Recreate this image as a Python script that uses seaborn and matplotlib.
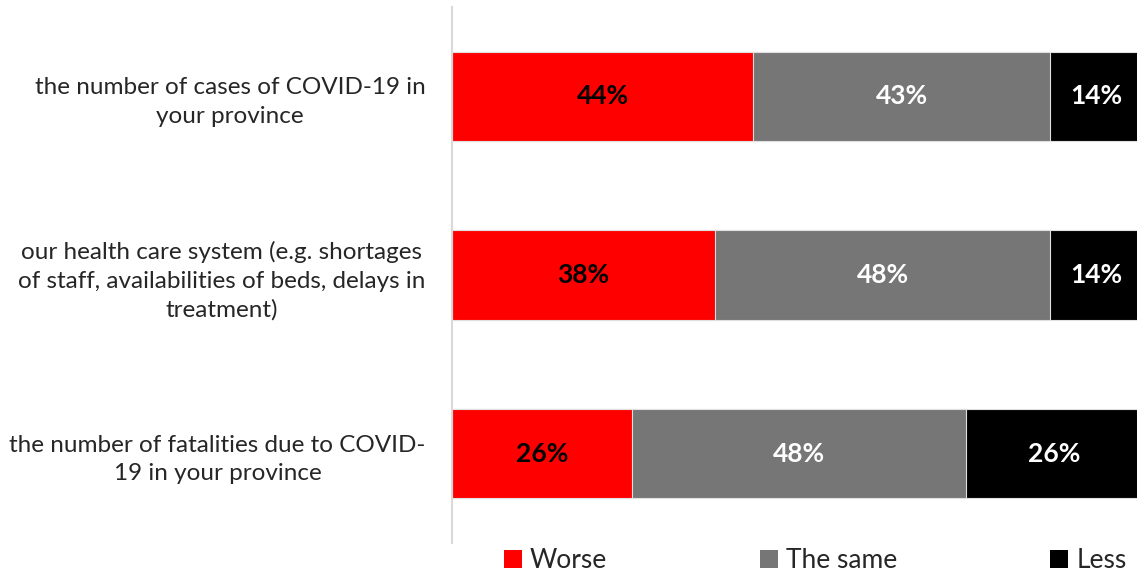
import numpy as np
import pandas as pd
import seaborn as sns
import matplotlib.pyplot as plt
from matplotlib.patches import Patch

# Survey answers (percent of respondents)
questions = [
    "the number of cases of COVID-19 in\nyour province",
    "our health care system (e.g. shortages\nof staff, availabilities of beds, delays in\ntreatment)",
    "the number of fatalities due to COVID-\n19 in your province",
]
worse = [43.6, 38.1, 26.0]
same = [42.9, 48.4, 48.4]
less = [13.6, 13.6, 25.6]

series_names = ["Worse", "The same", "Less"]
colors = ["#FF0000", "#767676", "#000000"]
text_colors = ["black", "white", "white"]

df = pd.DataFrame({"question": questions, "Worse": worse, "The same": same, "Less": less})
df["c1"] = df["Worse"]
df["c2"] = df["Worse"] + df["The same"]
df["c3"] = df["c2"] + df["Less"]

sns.set_style("white")
plt.rcParams["font.family"] = ["Lato", "DejaVu Sans"]

fig = plt.figure(figsize=(11.37, 5.71), dpi=100)
ax = fig.add_axes([452 / 1137, 28 / 571, 685 / 1137, 536 / 571])

# stacked bars: draw cumulative totals back to front
for col, color in zip(["c3", "c2", "c1"], colors[::-1]):
    sns.barplot(data=df, x=col, y="question", color=color, width=0.5,
                saturation=1, edgecolor="#e0e0e0", linewidth=0.8, ax=ax,
                orient="h")

# segment labels
starts = [np.zeros(len(df)), df["c1"].values, df["c2"].values]
for name, start, tc in zip(series_names, starts, text_colors):
    vals = df[name].values
    for i, (s, v) in enumerate(zip(start, vals)):
        ax.text(s + v / 2, i, f"{v:.0f}%", ha="center", va="center",
                color=tc, fontsize=19, fontweight="bold")

ax.set_xlim(0, 100 * 685 / 691)
ax.set_ylim(2.5, -0.5)
ax.set_xlabel("")
ax.set_ylabel("")
ax.set_xticks([])
ax.tick_params(axis="y", length=0, pad=19)
for lbl in ax.get_yticklabels():
    lbl.set_multialignment("center")
    lbl.set_fontsize(17.5)
    lbl.set_linespacing(1.45)

for side in ["top", "right", "bottom"]:
    ax.spines[side].set_visible(False)
ax.spines["left"].set_color("#d9d9d9")
ax.spines["left"].set_linewidth(1.5)

handles = [Patch(facecolor=c, edgecolor="none") for c in colors]
fig.legend(handles, series_names, loc="lower left", ncol=3, mode="expand",
           bbox_to_anchor=(493 / 1137, -0.022, 644 / 1137, 0.05),
           frameon=False, fontsize=19, handlelength=0.7, handleheight=0.7,
           handletextpad=0.3, borderaxespad=0)

fig.savefig("out.png", dpi=100)
